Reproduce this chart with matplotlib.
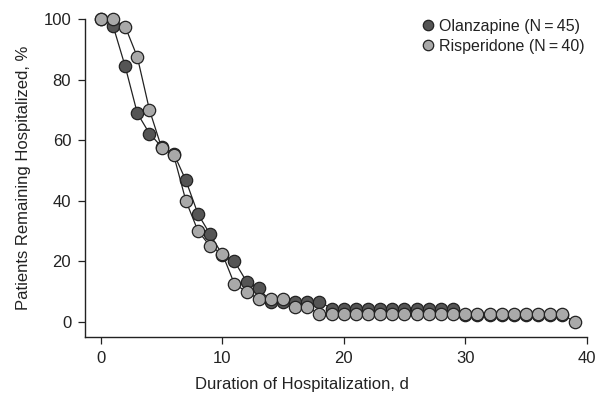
#!/usr/bin/env python3
"""
Kaplan-Meier style plot: patients remaining hospitalized by treatment arm.
"""

import matplotlib
matplotlib.use('Agg')
import matplotlib.pyplot as plt

# Olanzapine arm (N = 45), percent still hospitalized per day
olz_days = list(range(0, 39))
olz_pct = [100, 97.8, 84.4, 68.9, 62.2, 57.8, 55.6, 46.7, 35.6, 28.9,
           22.2, 20.0, 13.3, 11.1, 6.7, 6.7, 6.7, 6.7, 6.7,
           4.4, 4.4, 4.4, 4.4, 4.4, 4.4, 4.4, 4.4, 4.4, 4.4, 4.4,
           2.2, 2.2, 2.2, 2.2, 2.2, 2.2, 2.2, 2.2, 2.2]

# Risperidone arm (N = 40)
ris_days = list(range(0, 40))
ris_pct = [100, 100, 97.5, 87.5, 70.0, 57.5, 55.0, 40.0, 30.0, 25.0,
           22.5, 12.5, 10.0, 7.5, 7.5, 7.5, 5.0, 5.0,
           2.5, 2.5, 2.5, 2.5, 2.5, 2.5, 2.5, 2.5, 2.5, 2.5, 2.5,
           2.5, 2.5, 2.5, 2.5, 2.5, 2.5, 2.5, 2.5, 2.5, 2.5, 0.0]

labels = ['Olanzapine (N\u2009=\u200945)', 'Risperidone (N\u2009=\u200940)']
x_ticks = [0, 10, 20, 30, 40]
y_ticks = [0, 20, 40, 60, 80, 100]

plt.rcParams['font.family'] = ['Liberation Sans', 'DejaVu Sans']

fig = plt.figure(figsize=(5.95, 3.96), dpi=100)
ax = fig.add_axes([0.143, 0.148, 0.843, 0.804])

# dark series first, light series drawn on top
ax.plot(olz_days, olz_pct, color='#222222', linewidth=0.9, marker='o',
        markersize=8.9, markerfacecolor='#555555', markeredgecolor='#222222',
        markeredgewidth=0.9, clip_on=False, label=labels[0], zorder=3)
ax.plot(ris_days, ris_pct, color='#222222', linewidth=0.9, marker='o',
        markersize=8.9, markerfacecolor='#a9a9a9', markeredgecolor='#222222',
        markeredgewidth=0.9, clip_on=False, label=labels[1], zorder=4)

ax.set_xlim(-1.3, 40)
ax.set_ylim(-5.1, 100)
ax.set_xticks(x_ticks)
ax.set_yticks(y_ticks)
ax.tick_params(direction='out', length=5, width=0.9, labelsize=12,
               colors='#222222', pad=5)

for side in ['top', 'right']:
    ax.spines[side].set_visible(False)
for side in ['left', 'bottom']:
    ax.spines[side].set_linewidth(1.0)
    ax.spines[side].set_color('#222222')

ax.set_xlabel('Duration of Hospitalization, d', fontsize=12, color='#222222')
ax.xaxis.set_label_coords(0.433, -0.125)
ax.set_ylabel('Patients Remaining Hospitalized, %', fontsize=12, color='#222222', labelpad=9)

# legend shows markers only
handles = [
    plt.Line2D([], [], linestyle='none', marker='o', markersize=7.5,
               markerfacecolor='#555555', markeredgecolor='#222222', markeredgewidth=0.9),
    plt.Line2D([], [], linestyle='none', marker='o', markersize=7.5,
               markerfacecolor='#a9a9a9', markeredgecolor='#222222', markeredgewidth=0.9),
]
ax.legend(handles, labels, loc='upper right', bbox_to_anchor=(1.015, 1.03),
          frameon=False, fontsize=11.5, handlelength=0.8, handletextpad=0.3,
          labelspacing=0.3, borderaxespad=0.2, labelcolor='#222222')

fig.savefig('out.png', dpi=100)
